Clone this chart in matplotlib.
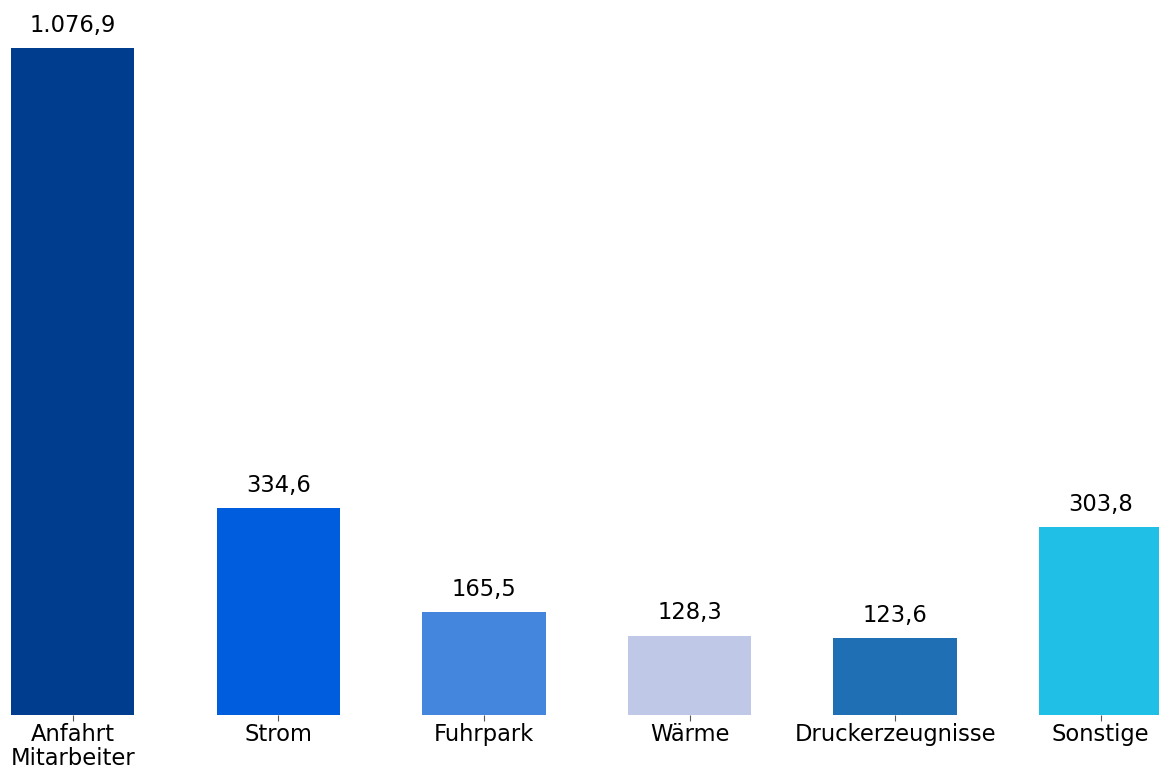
import numpy as np
import matplotlib.pyplot as plt

# Werte (t CO2)
kategorien = ["Anfahrt\nMitarbeiter", "Strom", "Fuhrpark", "Wärme", "Druckerzeugnisse", "Sonstige"]
werte = [1076.9, 334.6, 165.5, 128.3, 123.6, 303.8]
farben = ["#003d8f", "#005ddd", "#4485dd", "#bfc8e6", "#1f6fb4", "#20bfe6"]


def fmt_de(v):
    s = f"{v:,.1f}"
    return s.replace(",", "X").replace(".", ",").replace("X", ".")


fig = plt.figure(figsize=(11.59, 7.71), dpi=100)
ax = fig.add_axes([11 / 1159, 56 / 771, 1 - 11 / 1159, 667 / 771])

x = np.arange(len(kategorien))
bars = ax.bar(x, werte, width=0.6, color=farben)

for b, v in zip(bars, werte):
    ax.annotate(fmt_de(v), (b.get_x() + b.get_width() / 2, v),
                xytext=(0, 8), textcoords="offset points",
                ha="center", va="bottom", fontsize=16.3, annotation_clip=False)

ax.set_xlim(-0.3, 5.283)
ax.set_ylim(0, max(werte))
ax.set_xticks(x)
ax.set_xticklabels(kategorien, fontsize=16.3, linespacing=1.02)
ax.tick_params(axis="x", color="#555555", length=4, pad=2)
ax.set_yticks([])
for sp in ax.spines.values():
    sp.set_visible(False)

fig.savefig("out.png", dpi=100)
